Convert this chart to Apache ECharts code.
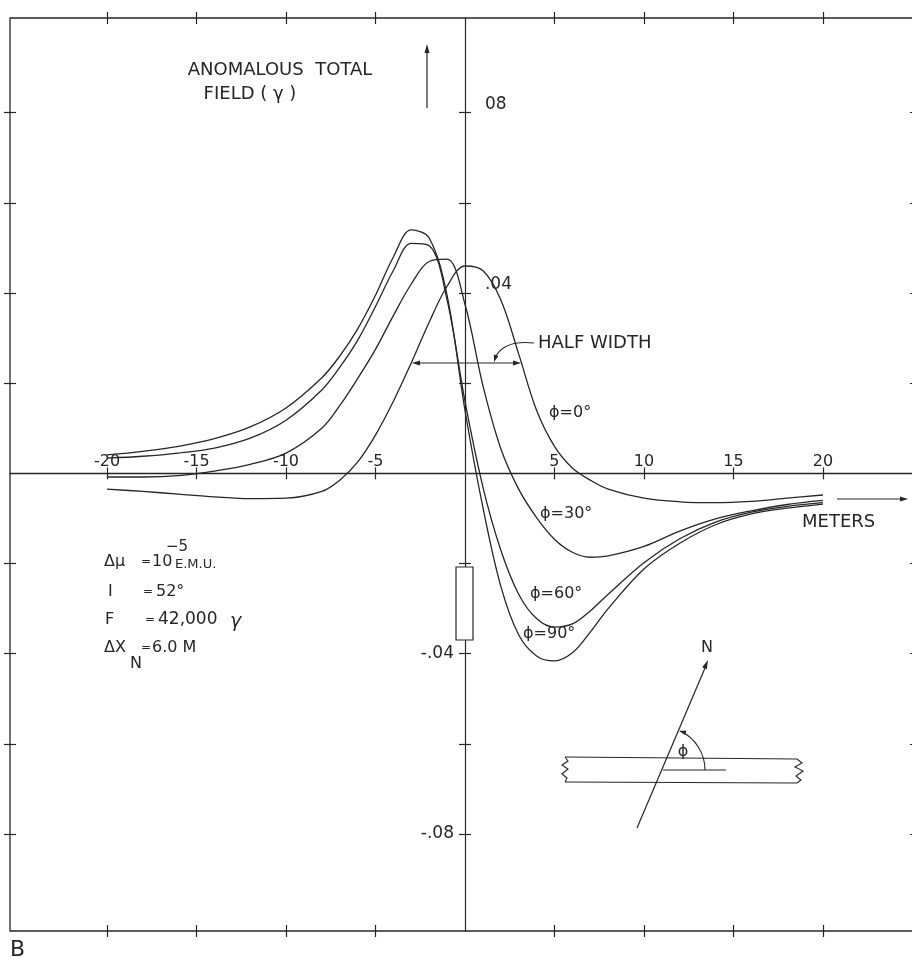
<!DOCTYPE html>
<html><head><meta charset="utf-8">
<script src="https://cdn.jsdelivr.net/npm/echarts@6/dist/echarts.min.js"></script>
<style>html,body{margin:0;padding:0;background:#fff}#c{width:912px;height:962px}</style>
</head><body><div id="c"></div>
<script>
// ---- data (distance in meters, anomalous total field in gammas) ----
const xValues = [-20,-18,-16,-14,-12,-10,-8,-7,-6,-5,-4,-3,-2,-1,0,1,2,3,4,5,6,7,8,10,12,14,16,18,20];
const phi0  = [-0.0035,-0.0040,-0.0046,-0.0052,-0.0056,-0.0055,-0.0040,-0.0015,0.0025,0.0085,0.0160,0.0245,0.0335,0.0415,0.0460,0.0450,0.0385,0.0265,0.0140,0.0060,0.0012,-0.0015,-0.0035,-0.0055,-0.0063,-0.0065,-0.0062,-0.0055,-0.0048];
const phi30 = [-0.0008,-0.0008,-0.0005,0.0005,0.0020,0.0045,0.0100,0.0150,0.0210,0.0275,0.0350,0.0420,0.0470,0.0475,0.0375,0.0195,0.0055,-0.0035,-0.0098,-0.0146,-0.0175,-0.0186,-0.0183,-0.0162,-0.0128,-0.0101,-0.0083,-0.0069,-0.0060];
const phi60 = [0.0034,0.0038,0.0045,0.0056,0.0078,0.0118,0.0185,0.0235,0.0295,0.0370,0.0450,0.0510,0.0505,0.0385,0.0160,-0.0030,-0.0170,-0.0268,-0.0322,-0.0341,-0.0334,-0.0305,-0.0268,-0.0198,-0.0145,-0.0108,-0.0086,-0.0073,-0.0065];
const phi90 = [0.0041,0.0049,0.0060,0.0077,0.0103,0.0145,0.0212,0.0260,0.0320,0.0395,0.0480,0.0540,0.0522,0.0395,0.0140,-0.0075,-0.0250,-0.0358,-0.0405,-0.0416,-0.0398,-0.0352,-0.0300,-0.0212,-0.0155,-0.0114,-0.0090,-0.0077,-0.0068];
const seriesNames = ['φ=0°','φ=30°','φ=60°','φ=90°'];
const xTickValues = [-20,-15,-10,-5,5,10,15,20];
const xTickLabels = ['-20','-15','-10','-5','5','10','15','20'];
const yTickValues = [-0.08,-0.06,-0.04,-0.02,0.02,0.04,0.06,0.08];
const yNegLabelValues = [-0.08,-0.04];
const yNegLabels = ['-.08','-.04'];
const yPosLabelValues = [0.04,0.08];
const yPosLabels = ['.04','08'];

const X_MIN = -25.42, X_MAX = 25.2, Y_MIN = -0.1015, Y_MAX = 0.101;
const G_LEFT = 10, G_TOP = 18, G_W = 906, G_H = 913;
const INK = '#262626';
const FF = '"DejaVu Sans", "Liberation Sans", sans-serif';

// offsets that put an axis through the origin (axes cross at zero)
const zeroY = G_TOP + (Y_MAX - 0) / (Y_MAX - Y_MIN) * G_H;
const zeroX = G_LEFT + (0 - X_MIN) / (X_MAX - X_MIN) * G_W;
const xZeroOffset = -(G_TOP + G_H - zeroY);
const yZeroOffset = -(zeroX - G_LEFT);

function lbl(vals, texts){ return v => { for (let i=0;i<vals.length;i++) if (Math.abs(vals[i]-v)<1e-9) return texts[i]; return ''; }; }
function xAx(o){ return Object.assign({type:'value', min:X_MIN, max:X_MAX, splitLine:{show:false}, axisLabel:{show:false}, axisTick:{show:false}, axisLine:{show:false, onZero:false}}, o); }
function yAx(o){ return Object.assign({type:'value', min:Y_MIN, max:Y_MAX, splitLine:{show:false}, axisLabel:{show:false}, axisTick:{show:false}, axisLine:{show:false, onZero:false}}, o); }
const tickStyle = {color:INK, width:1.2};

const chart = echarts.init(document.getElementById('c'), null, {renderer:'canvas', width:912, height:962});

function txt(text, x, y, size, align, vAlign, extra){
  return {type:'text', x:x, y:y, silent:true, z:10, style:Object.assign({text:text, fill:INK, font: size+'px '+FF, align:align||'left', verticalAlign:vAlign||'middle'}, extra||{})};
}
function seg(x1,y1,x2,y2,w){ return {type:'line', silent:true, z:10, shape:{x1:x1,y1:y1,x2:x2,y2:y2}, style:{stroke:INK, lineWidth:w||1.2}}; }
function head(x,y,ang,len,wid){
  len = len||8; wid = wid||2.6;
  const bx = x - len*Math.cos(ang), by = y - len*Math.sin(ang);
  const px = -Math.sin(ang)*wid, py = Math.cos(ang)*wid;
  return {type:'polygon', silent:true, z:10, shape:{points:[[x,y],[bx+px,by+py],[bx-px,by-py]]}, style:{fill:INK}};
}

const graphics = [
  txt('ANOMALOUS  TOTAL', 280, 70, 18, 'center'),
  txt('FIELD ( γ )', 250, 94, 18, 'center'),
  seg(427,108,427,50), head(427,44,-Math.PI/2,9,2.5),
  // half width
  seg(415,363,518,363), head(412,363,Math.PI,8,2.6), head(521,363,0,8,2.6),
  {type:'bezierCurve', silent:true, z:10, shape:{x1:534,y1:343,cpx1:505,cpy1:340,x2:496,y2:356}, style:{stroke:INK, lineWidth:1.1, fill:'none'}},
  head(494,362,Math.PI*0.6,7,2.4),
  txt('HALF WIDTH', 538, 343, 18),
  txt('ϕ=0°', 549, 413, 16),
  txt('ϕ=30°', 540, 514, 16),
  txt('ϕ=60°', 530, 594, 16),
  txt('ϕ=90°', 523, 634, 16),
  txt('METERS', 802, 522, 18),
  seg(837,499,902,499), head(908,499,0,8,2.5),
  // parameters
  txt('Δμ', 104, 562, 16), txt('=', 141, 562, 12), txt('10', 152, 562, 16), txt('−5', 166, 547, 15), txt('E.M.U.', 175, 565, 13),
  txt('I', 108, 592, 16), txt('=', 143, 592, 12), txt('52°', 156, 592, 16),
  txt('F', 105, 620, 16), txt('=', 145, 620, 12), txt('42,000', 158, 620, 17), txt('γ', 230, 622, 19, 'left', 'middle', {font:'italic 19px '+FF}),
  txt('ΔX', 104, 648, 16), txt('=', 141, 648, 12), txt('6.0 M', 152, 648, 16), txt('N', 130, 664, 16),
  // dike
  {type:'rect', silent:true, z:10, shape:{x:456,y:567,width:17,height:73}, style:{fill:'#fff', stroke:INK, lineWidth:1.2}},
  // strike diagram
  seg(565,757,797,759), seg(565,782,797,783),
  {type:'polyline', silent:true, z:10, shape:{points:[[565,757],[568,761],[562,765],[568,769],[562,774],[567,778],[565,782]]}, style:{stroke:INK, lineWidth:1.1, fill:'none'}},
  {type:'polyline', silent:true, z:10, shape:{points:[[797,759],[802,763],[795,767],[803,771],[796,776],[801,780],[797,783]]}, style:{stroke:INK, lineWidth:1.1, fill:'none'}},
  seg(637,828,705,668), head(708,660,Math.atan2(-165,70),9,2.6),
  txt('N', 707, 648, 16, 'center'),
  seg(663,770,726,770),
  {type:'arc', silent:true, z:10, shape:{cx:662,cy:770,r:43,startAngle:0,endAngle:-1.13,clockwise:false}, style:{stroke:INK, lineWidth:1.1, fill:'none'}},
  head(679,731,Math.PI*1.08,7,2.4),
  txt('ϕ', 683, 752, 16, 'center'),
  txt('B', 10, 950, 22)
];

const mk = arr => xValues.map((x,i)=>[x, arr[i]]);
const all = [phi0, phi30, phi60, phi90];

chart.setOption({
  animation:false,
  backgroundColor:'#ffffff',
  grid:{left:G_LEFT, top:G_TOP, width:G_W, height:G_H, show:true, borderColor:INK, borderWidth:1.3, backgroundColor:'transparent', outerBoundsMode:'none', containLabel:false},
  xAxis:[
    // main horizontal axis through y = 0
    xAx({position:'bottom', offset:xZeroOffset, axisLine:{show:true, onZero:false, lineStyle:{color:INK, width:1.3}},
         axisTick:{show:true, inside:true, length:6, customValues:xTickValues, lineStyle:tickStyle},
         axisLabel:{show:true, inside:true, margin:4, customValues:xTickValues, formatter:lbl(xTickValues,xTickLabels), color:INK, fontSize:16, fontFamily:FF}}),
    xAx({position:'bottom', offset:xZeroOffset,
         axisTick:{show:true, inside:false, length:6, customValues:xTickValues, lineStyle:tickStyle}}),
    // frame ticks
    xAx({position:'top', offset:-6, axisTick:{show:true, inside:false, length:12, customValues:xTickValues, lineStyle:tickStyle}}),
    xAx({position:'bottom', offset:-6, axisTick:{show:true, inside:false, length:12, customValues:xTickValues, lineStyle:tickStyle}})
  ],
  yAxis:[
    // main vertical axis through x = 0
    yAx({position:'left', offset:yZeroOffset, axisLine:{show:true, onZero:false, lineStyle:{color:INK, width:1.2}},
         axisTick:{show:true, inside:true, length:6, customValues:yTickValues, lineStyle:tickStyle},
         axisLabel:{show:true, inside:false, margin:11, customValues:yNegLabelValues, formatter:lbl(yNegLabelValues,yNegLabels), color:INK, fontSize:17, fontFamily:FF}}),
    yAx({position:'left', offset:yZeroOffset,
         axisTick:{show:true, inside:false, length:6, customValues:yTickValues, lineStyle:tickStyle},
         axisLabel:{show:true, inside:true, margin:20, verticalAlign:'bottom', customValues:yPosLabelValues, formatter:lbl(yPosLabelValues,yPosLabels), color:INK, fontSize:17, fontFamily:FF}}),
    // frame ticks
    yAx({position:'left', offset:-6, axisTick:{show:true, inside:false, length:12, customValues:yTickValues, lineStyle:tickStyle}}),
    yAx({position:'right', offset:-6, axisTick:{show:true, inside:false, length:12, customValues:yTickValues, lineStyle:tickStyle}})
  ],
  series: all.map((arr,i)=>({
    name:seriesNames[i], type:'line', xAxisIndex:0, yAxisIndex:0, data:mk(arr),
    smooth:0.35, showSymbol:false, symbol:'none', lineStyle:{color:INK, width:1.3}, silent:true, z:5
  })),
  graphic: graphics
});
</script></body></html>
